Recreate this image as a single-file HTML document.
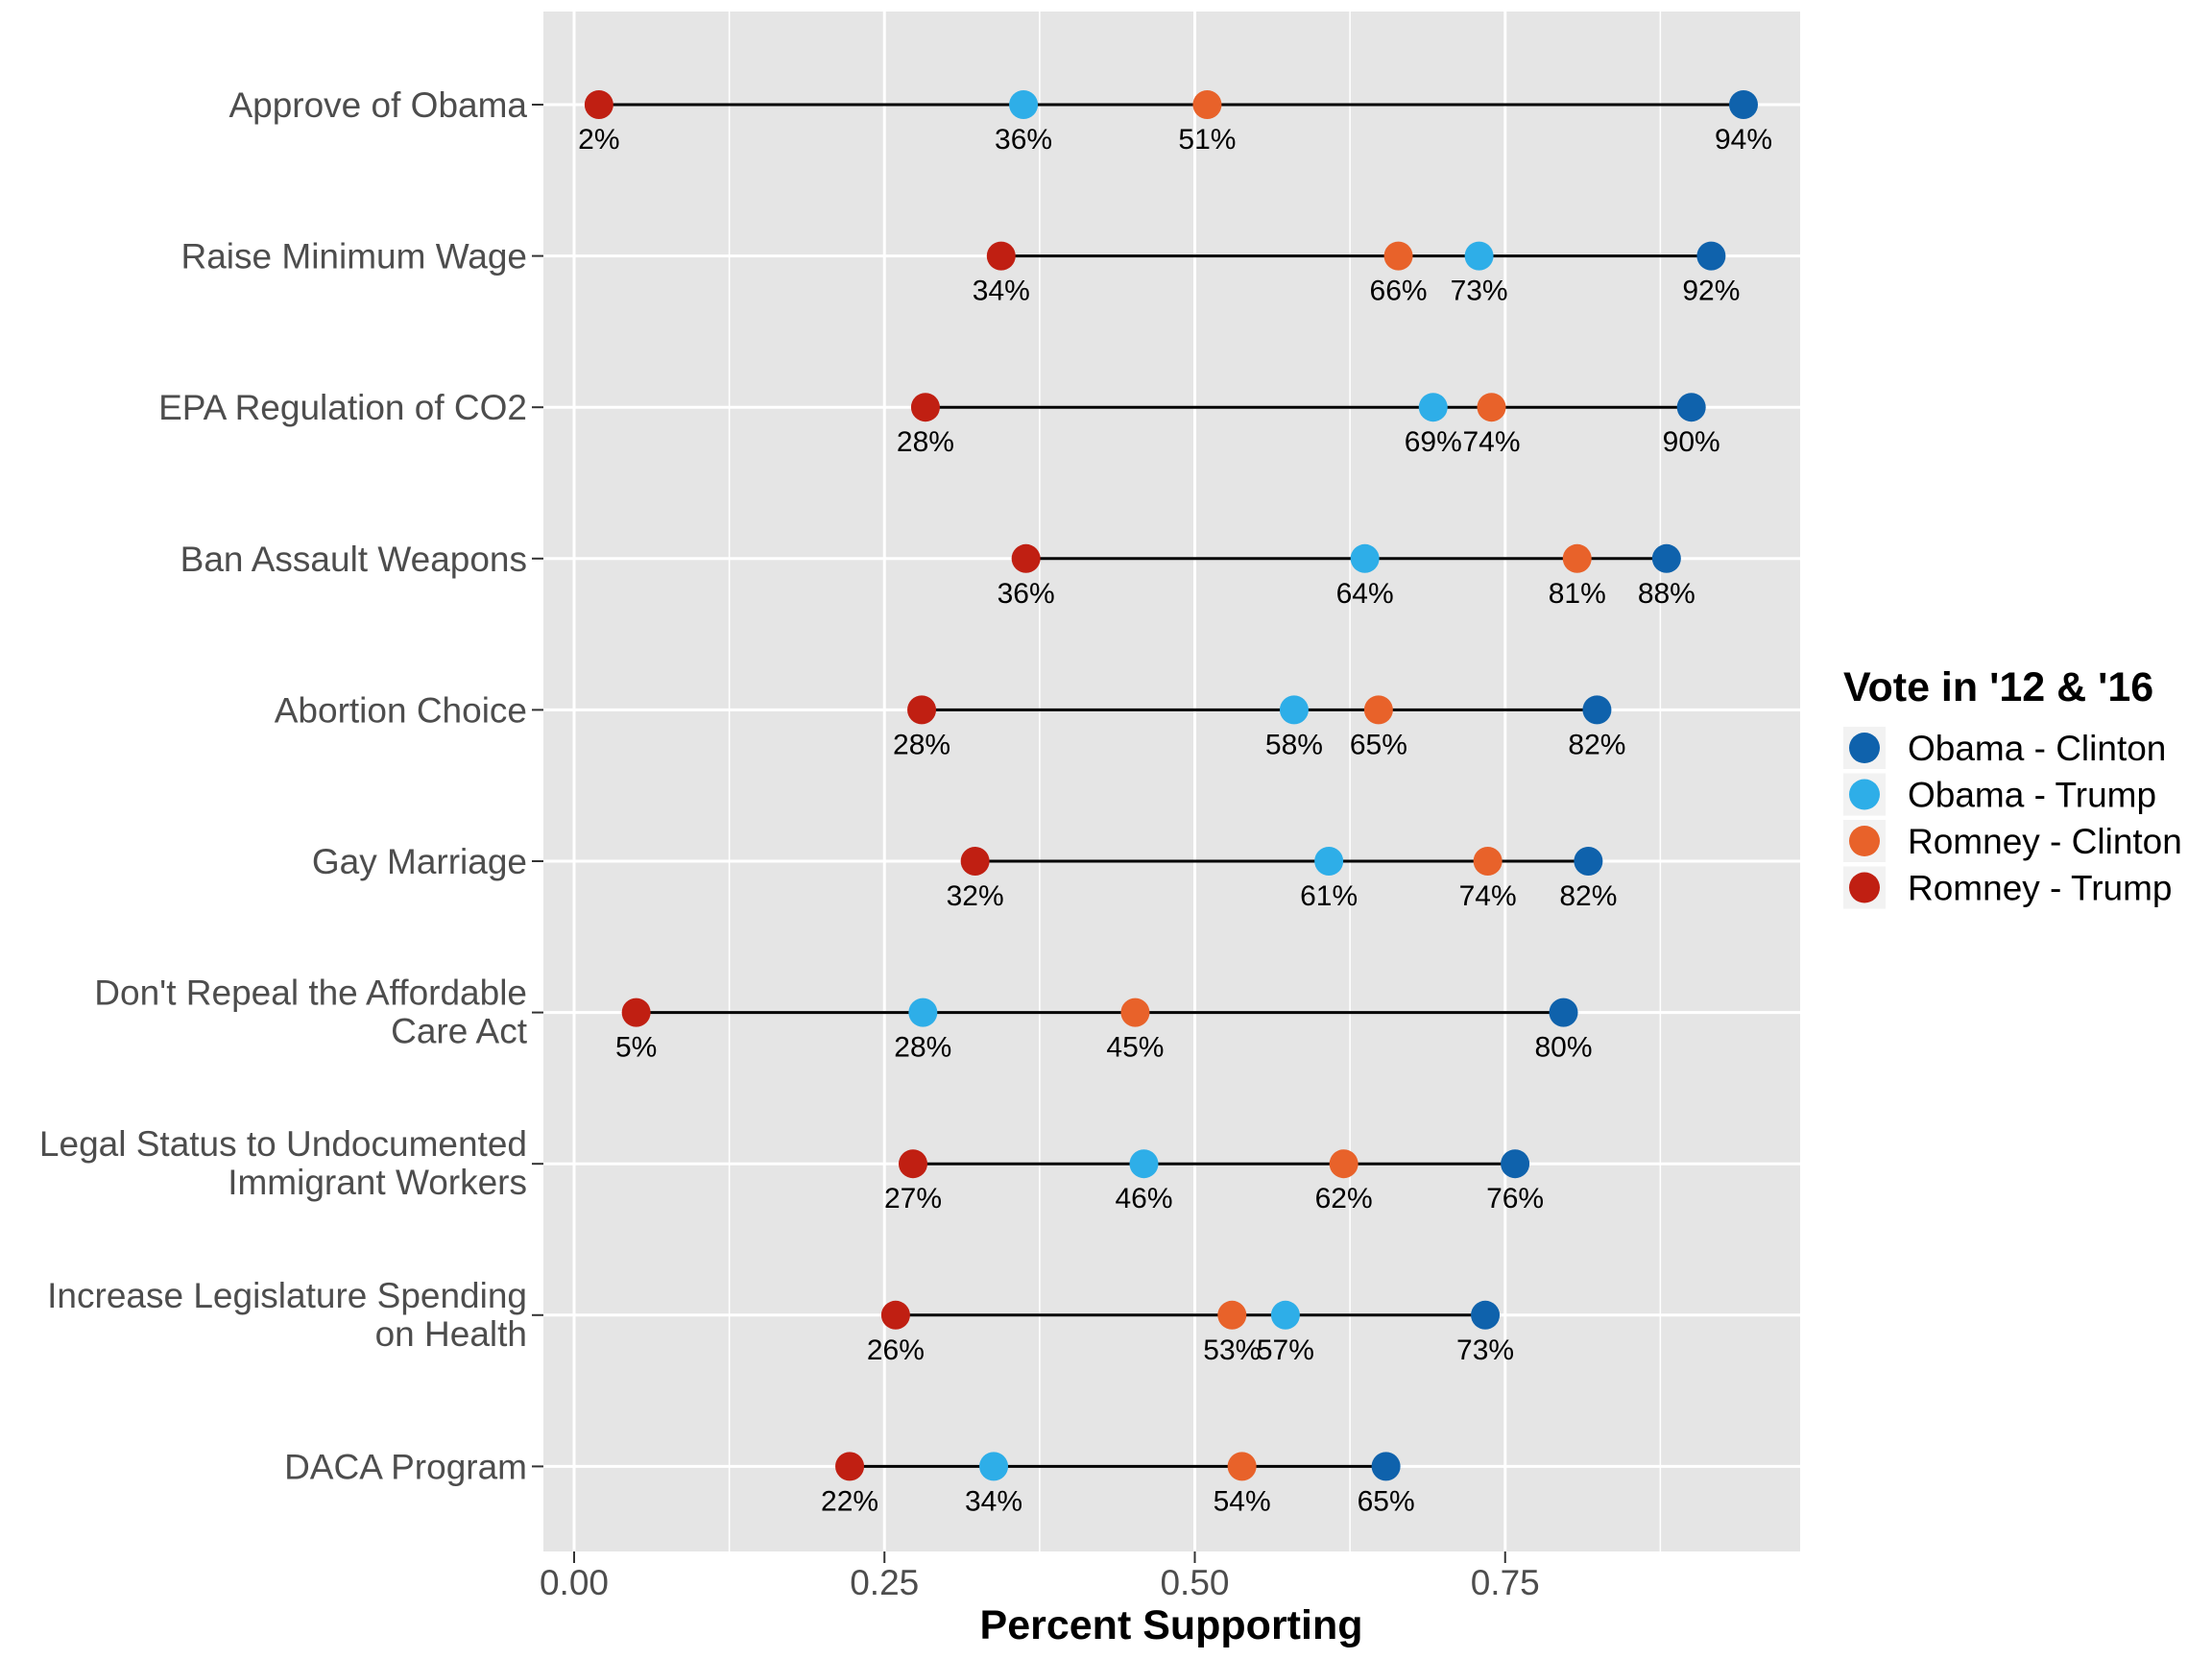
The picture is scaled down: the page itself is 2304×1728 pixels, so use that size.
<!DOCTYPE html>
<html><head><meta charset="utf-8"><style>
body{margin:0;background:#fff;}
svg{display:block;font-family:"Liberation Sans",Arial,sans-serif;}
</style></head><body>
<svg id="chart" width="2304" height="1728" viewBox="0 0 2304 1728">
<rect x="566" y="12" width="1309" height="1604" fill="#e5e5e5"/>
<g id="grid"></g><g id="rows"></g><g id="xaxis"></g>
<text x="1220" y="1707" font-size="43" font-weight="bold" text-anchor="middle">Percent Supporting</text>
<g id="legend">
<text x="1920" y="730" font-size="43" font-weight="bold">Vote in '12 &amp; '16</text>
</g>
</svg>
<script>
const categories=[["Approve of Obama"],["Raise Minimum Wage"],["EPA Regulation of CO2"],["Ban Assault Weapons"],["Abortion Choice"],["Gay Marriage"],["Don't Repeal the Affordable","Care Act"],["Legal Status to Undocumented","Immigrant Workers"],["Increase Legislature Spending","on Health"],["DACA Program"]];
const seriesNames=["Obama - Clinton","Obama - Trump","Romney - Clinton","Romney - Trump"];
const obamaClinton=[0.942,0.916,0.900,0.880,0.824,0.817,0.797,0.758,0.734,0.654];
const obamaTrump=[0.362,0.729,0.692,0.637,0.580,0.608,0.281,0.459,0.573,0.338];
const romneyClinton=[0.510,0.664,0.739,0.808,0.648,0.736,0.452,0.620,0.530,0.538];
const romneyTrump=[0.020,0.344,0.283,0.364,0.280,0.323,0.050,0.273,0.259,0.222];
const xTicks=[0,0.25,0.5,0.75];
const xTickLabels=["0.00","0.25","0.50","0.75"];
const colors=["#0f62ac","#2eaee8","#e8622a","#c01f12"];
const NS="http://www.w3.org/2000/svg";
const X=v=>598+v*1293;
const Y=i=>109+i*157.6;
function mk(tag,attrs,parent){const e=document.createElementNS(NS,tag);for(const k in attrs)e.setAttribute(k,attrs[k]);parent.appendChild(e);return e;}
const grid=document.getElementById('grid'),rows=document.getElementById('rows'),xa=document.getElementById('xaxis'),lg=document.getElementById('legend');
for(let t=0;t<=0.875;t+=0.125){const l=mk('line',{x1:X(t),x2:X(t),y1:12,y2:1616,stroke:'#fff','stroke-width':(Math.round(t*8)%2==0)?3:1.5},grid);

}
categories.forEach((c,i)=>{const l=mk('line',{x1:566,x2:1875,y1:Y(i),y2:Y(i),stroke:'#fff','stroke-width':3},grid);


const tk=mk('line',{x1:554,x2:566,y1:Y(i),y2:Y(i),stroke:'#333','stroke-width':2},xa);


const t=mk('text',{x:549,'font-size':37,fill:'#4d4d4d','text-anchor':'end'},xa);


if(c.length==1){t.setAttribute('y',Y(i)+13);t.textContent=c[0];}
else{c.forEach((s,j)=>{const ts=mk('tspan',{x:549,y:Y(i)-8+j*40},t);ts.textContent=s;});}
});
xTicks.forEach((v,i)=>{const tk=mk('line',{x1:X(v),x2:X(v),y1:1616,y2:1628,stroke:'#333','stroke-width':2},xa);


const t=mk('text',{x:X(v),y:1661,'font-size':37,fill:'#4d4d4d','text-anchor':'middle'},xa);


t.textContent=xTickLabels[i];});
const all=[obamaClinton,obamaTrump,romneyClinton,romneyTrump];
categories.forEach((c,i)=>{const vals=all.map(s=>s[i]);
const ln=mk('line',{x1:X(Math.min(...vals)),x2:X(Math.max(...vals)),y1:Y(i),y2:Y(i),stroke:'#000','stroke-width':3},rows);


all.forEach((s,k)=>{const p=mk('circle',{cx:X(s[i]),cy:Y(i),r:15,fill:colors[k]},rows);


const t=mk('text',{x:X(s[i]),y:Y(i)+46,'font-size':30,'text-anchor':'middle',fill:'#000'},rows);


t.textContent=Math.round(s[i]*100)+'%';});});
seriesNames.forEach((n,k)=>{const y=757+k*48.5;
const r=mk('rect',{x:1920,y:y,width:44,height:44,fill:'#f2f2f2'},lg);


const c=mk('circle',{cx:1942,cy:y+22,r:16,fill:colors[k]},lg);


const t=mk('text',{x:1987,y:y+35,'font-size':37},lg);


t.textContent=n;});
</script>
</body></html>
